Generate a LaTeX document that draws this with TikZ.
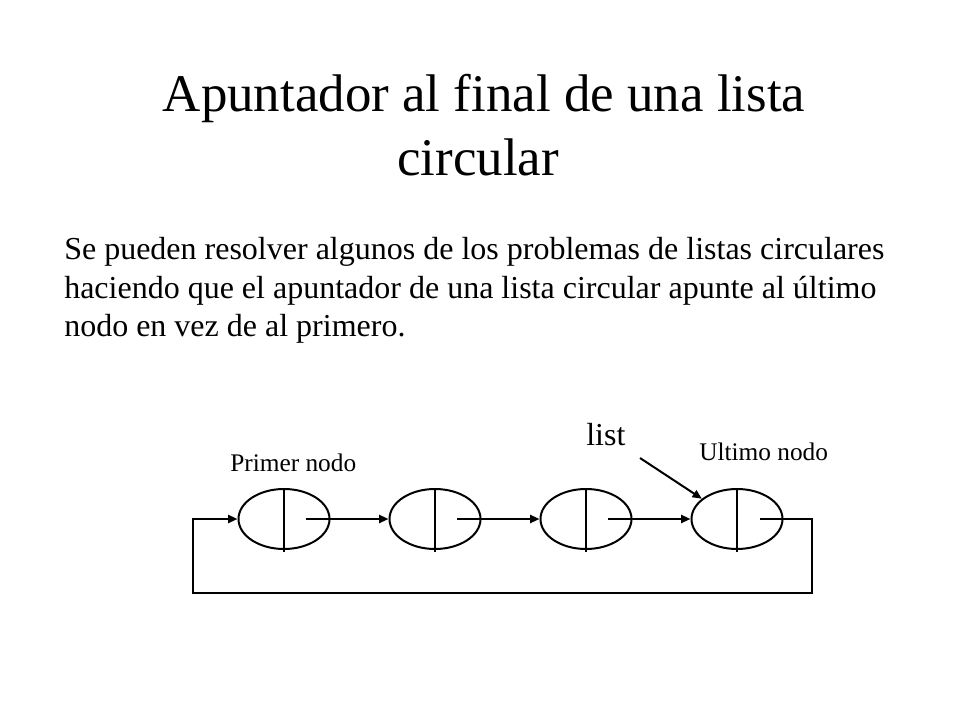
\documentclass[tikz,border=0pt]{standalone}
\usepackage{fontspec}
\setmainfont{Liberation Serif}
\usetikzlibrary{shapes.geometric,arrows.meta}
\tikzset{
  cell/.style={ellipse,draw,line width=1.5pt,minimum width=68.25pt,minimum height=45pt,inner sep=0pt},
  wire/.style={line width=1.5pt},
  arr/.style={wire,-{Triangle[length=7pt,width=6pt]}},
  titletext/.style={font=\fontsize{39.7}{47}\selectfont,anchor=base,inner sep=0pt},
  bodytext/.style={font=\fontsize{24}{29}\selectfont,anchor=base west,inner sep=0pt},
  smalltext/.style={font=\fontsize{19}{23}\selectfont,anchor=base west,inner sep=0pt},
  listtext/.style={font=\fontsize{24}{29}\selectfont,anchor=base west,inner sep=0pt}
}
\begin{document}
\begin{tikzpicture}[x=0.75pt,y=-0.75pt]
\useasboundingbox[fill=white] (0,0) rectangle (960,720);
% title
\node[titletext] (t1) at (484,112) {Apuntador al final de una lista};
\node[titletext] (t2) at (478,176) {circular};
% body
\node[bodytext] (b1) at (64,260) {Se pueden resolver algunos de los problemas de listas circulares};
\node[bodytext] (b2) at (64,298) {haciendo que el apuntador de una lista circular apunte al último};
\node[bodytext] (b3) at (64,336) {nodo en vez de al primero.};
% labels
\node[smalltext] (l1) at (230,471) {Primer nodo};
\node[smalltext] (l4) at (699,460) {Ultimo nodo};
\node[listtext] (lst) at (586,445) {list};
% cells
\node[cell] (e1) at (284,519) {};
\node[cell] (e2) at (435,519) {};
\node[cell] (e3) at (586,519) {};
\node[cell] (e4) at (737,519) {};
% dividers
\foreach \n in {e1,e2,e3,e4}{
  \draw[wire] (\n.north) -- ([yshift=-1.5pt]\n.south);
}
% pointers
\draw[arr] ([xshift=16.5pt]e1.center) -- (e2.west);
\draw[arr] ([xshift=16.5pt]e2.center) -- (e3.west);
\draw[arr] ([xshift=16.5pt]e3.center) -- (e4.west);
% loop back
\coordinate (rA) at (812,519);
\coordinate (rB) at (812,593);
\coordinate (rC) at (193,593);
\coordinate (rD) at (193,519);
\draw[arr] ([xshift=17.5pt]e4.center) -- (rA) -- (rB) -- (rC) -- (rD) -- (e1.west);
% list pointer
\coordinate (ls) at (640,458);
\draw[arr] (ls) -- (e4.150);
\end{tikzpicture}
\end{document}
